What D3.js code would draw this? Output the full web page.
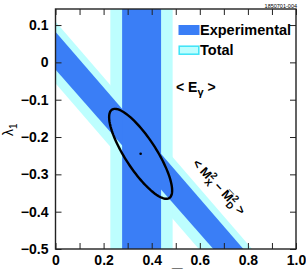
<!DOCTYPE html>
<html>
<head>
<meta charset="utf-8">
<script src="https://cdn.jsdelivr.net/npm/d3@7"></script>
<style>
  body { margin: 0; background: #fff; }
  svg { display: block; }
  text { font-family: "Liberation Sans", Arial, sans-serif; }
</style>
</head>
<body>
<div id="chart-area"></div>
<script>
// values
var xTicks = [0, 0.1, 0.2, 0.3, 0.4, 0.5, 0.6, 0.7, 0.8, 0.9, 1.0];
var xLabels = [0, 0.2, 0.4, 0.6, 0.8, 1.0];
var yTicks = [0.1, 0, -0.1, -0.2, -0.3, -0.4, -0.5];

// <E_gamma> band : [low, high] in Lambda-bar
var egExp = [0.277, 0.439];
var egTotal = [0.228, 0.487];

// <Mx^2 - MD^2> band edges : [intercept, slope] of lambda1 vs Lambda-bar
var mxExpUpper = [0.082, -0.745];
var mxExpLower = [-0.019, -0.733];
var mxTotalUpper = [0.109, -0.745];
var mxTotalLower = [-0.056, -0.745];

// combined fit ellipse: center, half extents, correlation
var ellCenter = [0.354, -0.245];
var ellHalf = [0.131, 0.1205];
var ellRho = -0.815;

var width = 306, height = 271;
var colExp = "#3a7ef6", colTotal = "#bdfefe", colTotalEdge = "#3de3f7";

var svg = d3.select("#chart-area")
    .append("svg")
        .attr("width", width)
        .attr("height", height);

var x = d3.scaleLinear().domain([0, 1]).range([55.5, 296]);
var y = d3.scaleLinear().domain([-0.5, 0.143]).range([249, 9]);

svg.append("clipPath")
    .attr("id", "plot-clip")
  .append("rect")
    .attr("x", x(0))
    .attr("y", y(0.143))
    .attr("width", x(1) - x(0))
    .attr("height", y(-0.5) - y(0.143));

var g = svg.append("g").attr("clip-path", "url(#plot-clip)");

function diagBand(upper, lower) {
    var x0 = -0.1, x1 = 1.1;
    var pts = [
        [x0, upper[0] + upper[1] * x0],
        [x1, upper[0] + upper[1] * x1],
        [x1, lower[0] + lower[1] * x1],
        [x0, lower[0] + lower[1] * x0]
    ];
    return d3.line().x(function(d) { return x(d[0]); }).y(function(d) { return y(d[1]); })(pts) + "Z";
}

function vertBand(b) {
    return {x: x(b[0]), w: x(b[1]) - x(b[0])};
}

// light bands first, dark ones on top
g.append("path").attr("d", diagBand(mxTotalUpper, mxTotalLower)).attr("fill", colTotal);
var vt = vertBand(egTotal);
g.append("rect").attr("x", vt.x).attr("y", 0).attr("width", vt.w).attr("height", height).attr("fill", colTotal);
g.append("path").attr("d", diagBand(mxExpUpper, mxExpLower)).attr("fill", colExp);
var ve = vertBand(egExp);
g.append("rect").attr("x", ve.x).attr("y", 0).attr("width", ve.w).attr("height", height).attr("fill", colExp);

// ellipse
var ellPts = d3.range(0, 361, 3).map(function(a) {
    var t = a * Math.PI / 180;
    return [
        ellCenter[0] + ellHalf[0] * Math.cos(t),
        ellCenter[1] + ellHalf[1] * (ellRho * Math.cos(t) + Math.sqrt(1 - ellRho * ellRho) * Math.sin(t))
    ];
});
g.append("path")
    .attr("d", d3.line().x(function(d) { return x(d[0]); }).y(function(d) { return y(d[1]); })(ellPts))
    .attr("fill", "none")
    .attr("stroke", "#000")
    .attr("stroke-width", 2.4)
    .attr("stroke-linecap", "round");
g.append("circle")
    .attr("cx", x(ellCenter[0]))
    .attr("cy", y(ellCenter[1]))
    .attr("r", 1.3)
    .attr("fill", "#000");

// axes
function fmtY(d) {
    if (d === 0) return "0";
    return (d < 0 ? "\u2212" : "") + Math.abs(d).toFixed(1);
}
function fmtX(d) {
    var lab = xLabels.some(function(v) { return Math.abs(v - d) < 1e-9; });
    if (!lab) return "";
    return d === 0 ? "0" : d.toFixed(1);
}

var xAxis = svg.append("g")
    .attr("transform", "translate(0," + y(-0.5) + ")")
    .call(d3.axisBottom(x).tickValues(xTicks).tickSize(-6).tickPadding(6).tickFormat(fmtX));
var xTop = svg.append("g")
    .attr("transform", "translate(0," + y(0.143) + ")")
    .call(d3.axisTop(x).tickValues(xTicks).tickSize(-6).tickFormat(""));
var yAxis = svg.append("g")
    .attr("transform", "translate(" + x(0) + ",0)")
    .call(d3.axisLeft(y).tickValues(yTicks).tickSize(-6).tickPadding(7).tickFormat(fmtY));
var yRight = svg.append("g")
    .attr("transform", "translate(" + x(1) + ",0)")
    .call(d3.axisRight(y).tickValues(yTicks).tickSize(-6).tickFormat(""));

[xAxis, xTop, yAxis, yRight].forEach(function(a) {
    a.select(".domain").remove();
    a.selectAll("line").attr("stroke", "#222").attr("stroke-width", 1);
    a.selectAll("text")
        .attr("fill", "#000")
        .attr("font-family", "'Liberation Sans', Arial, sans-serif")
        .attr("font-weight", "bold")
        .attr("font-size", "14px");
});

svg.append("rect")
    .attr("x", x(0))
    .attr("y", y(0.143))
    .attr("width", x(1) - x(0))
    .attr("height", y(-0.5) - y(0.143))
    .attr("fill", "none")
    .attr("stroke", "#222")
    .attr("stroke-width", 1.4);

// axis titles
var yl = svg.append("text")
    .attr("transform", "translate(13,136) rotate(-90)")
    .attr("font-size", "14px");
yl.append("tspan").text("\u03bb");
yl.append("tspan").attr("font-size", "10px").attr("dy", 4).text("1");

svg.append("text")
    .attr("x", 172)
    .attr("y", 267)
    .attr("font-size", "19px")
    .attr("font-weight", "bold")
    .text("_");

// id tag
svg.append("text")
    .attr("x", 297)
    .attr("y", 7.5)
    .attr("text-anchor", "end")
    .attr("font-size", "5.5px")
    .text("1850701-004");

// legend
svg.append("rect")
    .attr("x", 178.5).attr("y", 25)
    .attr("width", 21).attr("height", 10)
    .attr("fill", colExp);
svg.append("text")
    .attr("x", 200).attr("y", 35)
    .attr("font-size", "14.5px").attr("font-weight", "bold")
    .text("Experimental");
svg.append("rect")
    .attr("x", 179.2).attr("y", 46.2)
    .attr("width", 19.6).attr("height", 8)
    .attr("fill", colTotal)
    .attr("stroke", colTotalEdge)
    .attr("stroke-width", 1.5);
svg.append("text")
    .attr("x", 200).attr("y", 55)
    .attr("font-size", "14.5px").attr("font-weight", "bold")
    .text("Total");

// band labels
var eg = svg.append("text")
    .attr("x", 176).attr("y", 91.5)
    .attr("font-size", "14px").attr("font-weight", "bold");
eg.append("tspan").text("< E");
eg.append("tspan").attr("font-size", "11px").attr("dy", 4).text("\u03b3");
eg.append("tspan").attr("dy", -4).text(" >");

var mx = svg.append("text")
    .attr("transform", "translate(192,164) rotate(47)")
    .attr("font-size", "12.5px").attr("font-weight", "bold");
mx.append("tspan").text("< M");
mx.append("tspan").attr("font-size", "9.5px").attr("dy", -5).text("2");
mx.append("tspan").attr("font-size", "9.5px").attr("dx", -5).attr("dy", 9).text("X");
mx.append("tspan").attr("dy", -4).text(" \u2212 M\u0305");
mx.append("tspan").attr("font-size", "9.5px").attr("dy", -5).text("2");
mx.append("tspan").attr("font-size", "9.5px").attr("dx", -5).attr("dy", 9).text("D");
mx.append("tspan").attr("dy", -4).text(" >");
</script>
</body>
</html>
